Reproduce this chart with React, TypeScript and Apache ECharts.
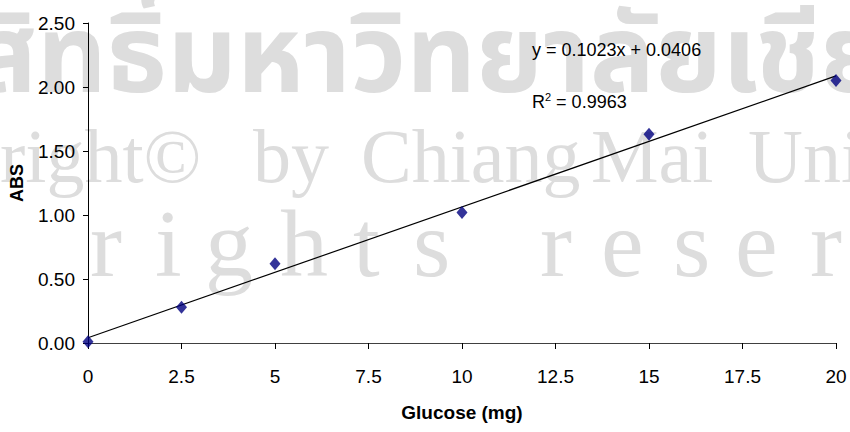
import React, { useEffect, useRef } from 'react';
import * as echarts from 'echarts';

const glucose = [0, 2.5, 5, 10, 15, 20];
const absorbance = [0.01, 0.28, 0.62, 1.02, 1.63, 2.05];
const slope = 0.1023;
const intercept = 0.0406;
const r2 = '0.9963';
const xName = 'Glucose (mg)';
const yName = 'ABS';

const wmFill = '#dddddd';
const wmShadow = '#c6c6c6';

function wmText(text: string, x: number, y: number, font: string, align: string = 'left') {
  return {
    type: 'text',
    z: -10,
    silent: true,
    style: {
      text,
      x,
      y,
      font,
      align,
      fill: wmFill,
      verticalAlign: 'middle',
      textShadowColor: wmShadow,
      textShadowOffsetX: 2,
      textShadowOffsetY: 2,
      textShadowBlur: 0,
    },
  };
}

export default function App() {
  const ref = useRef<HTMLDivElement>(null);
  useEffect(() => {
    if (!ref.current) return;
    const chart = echarts.init(ref.current, null, { renderer: 'svg' });
    const sans = "'Liberation Sans', Arial, sans-serif";
    const thai = "bold 108px 'Noto Sans Thai', 'Noto Sans', sans-serif";
    const serif76 = "76px 'Liberation Serif', 'DejaVu Serif', serif";
    const serif96 = "96px 'Liberation Serif', 'DejaVu Serif', serif";
    const line3: [string, number][] = [
      ['r', 90], ['i', 155], ['g', 205], ['h', 280], ['t', 353], ['s', 413],
      ['r', 540], ['e', 601], ['s', 673], ['e', 735], ['r', 810],
    ];
    const trend = [
      [0, intercept],
      [20, slope * 20 + intercept],
    ];
    chart.setOption({
      animation: false,
      backgroundColor: '#ffffff',
      grid: { left: 87, right: 14, top: 23, bottom: 89, containLabel: false },
      graphic: [
        wmText('ลิขสิ', 37, 59, thai, 'right'),
        wmText('ทธิ์มหาวิทยาลัยเชียงใหม่', 37, 59, thai),
        wmText('right©', 0, 156, serif76),
        wmText('by', 253, 156, serif76),
        wmText('Chiang', 361, 156, serif76),
        wmText('Mai', 591, 156, serif76),
        wmText('University', 748, 156, serif76),
        ...line3.map(([t, x]) => wmText(t, x, 243, serif96)),
        {
          type: 'text',
          z: 10,
          style: {
            text: 'y = 0.1023x + 0.0406',
            x: 532,
            y: 50,
            verticalAlign: 'middle',
            font: `18px ${sans}`,
            fill: '#000',
          },
        },
        {
          type: 'text',
          z: 10,
          style: {
            text: '{b|R}{s|2}{b| = ' + r2 + '}',
            x: 532,
            y: 102,
            verticalAlign: 'middle',
            fill: '#000',
            rich: {
              b: { fontSize: 18, fontFamily: sans, fill: '#000' },
              s: { fontSize: 11, fontFamily: sans, fill: '#000', verticalAlign: 'top', padding: [0, 0, 10, 0] },
            },
          },
        },
      ],
      xAxis: {
        type: 'value',
        min: 0,
        max: 20,
        interval: 2.5,
        name: xName,
        nameLocation: 'middle',
        nameGap: 60,
        nameTextStyle: { fontFamily: sans, fontWeight: 'bold', fontSize: 19, color: '#000' },
        axisLine: { onZero: false, lineStyle: { color: '#404040', width: 1 } },
        axisTick: { show: true, length: 6, lineStyle: { color: '#000' } },
        axisLabel: { margin: 24, fontFamily: sans, fontSize: 19, color: '#000', formatter: (v: number) => String(v) },
        splitLine: { show: false },
      },
      yAxis: {
        type: 'value',
        min: 0,
        max: 2.5,
        interval: 0.5,
        name: yName,
        nameLocation: 'middle',
        nameRotate: 90,
        nameGap: 62,
        nameTextStyle: { fontFamily: sans, fontWeight: 'bold', fontSize: 18, color: '#000' },
        axisLine: { show: true, lineStyle: { color: '#000', width: 1 } },
        axisTick: { show: true, length: 5, lineStyle: { color: '#000' } },
        axisLabel: { margin: 13, fontFamily: sans, fontSize: 19, color: '#000', formatter: (v: number) => v.toFixed(2) },
        splitLine: { show: false },
      },
      series: [
        {
          type: 'line',
          data: trend,
          symbol: 'none',
          lineStyle: { color: '#000', width: 1.2 },
          z: 3,
        },
        {
          type: 'scatter',
          data: glucose.map((g, i) => [g, absorbance[i]]),
          symbol: 'diamond',
          symbolSize: [11, 13],
          itemStyle: { color: '#00007f' },
          z: 4,
        },
      ],
    });
    return () => chart.dispose();
  }, []);
  return <div ref={ref} style={{ width: 850, height: 432, position: 'absolute', left: 0, top: 0 }} />;
}
